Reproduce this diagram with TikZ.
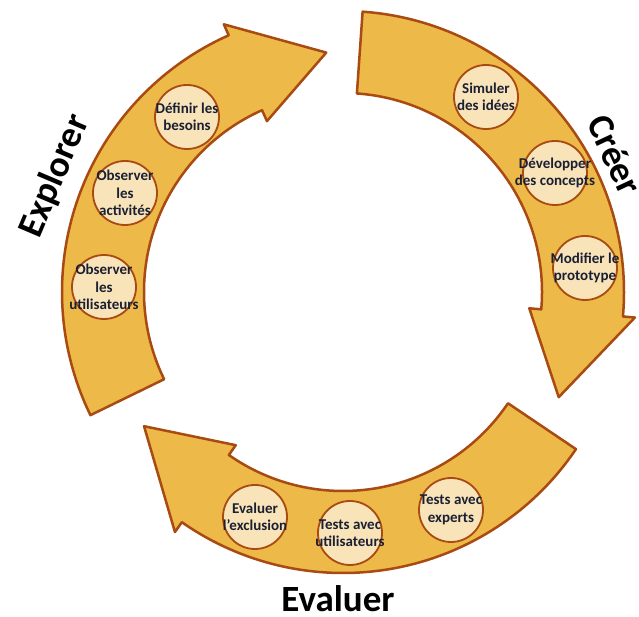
\documentclass[tikz,border=0pt]{standalone}
\usepackage{fontspec}
\setmainfont{Carlito}
\usepackage{tikz}
\usetikzlibrary{calc}
\definecolor{bandfill}{HTML}{EDB948}
\definecolor{bandline}{HTML}{A84A12}
\definecolor{bubblefill}{HTML}{F8E4B8}
\definecolor{ink}{HTML}{1B1F33}
% curved arrow: tail angle, wing angle, tip angle
\newcommand{\Fleche}[3]{%
  \draw[band] (#1:281pt) arc[start angle=#1, end angle=#2, radius=281pt]
    -- (#2:293pt) -- (#3:240pt) -- (#2:187pt) -- (#2:199pt)
    arc[start angle=#2, end angle=#1, radius=199pt] -- cycle;}
% step bubble: name, position, text
\newcommand{\Etape}[3]{%
  \node[bubble] (#1) at (#2) {};
  \node[bubbletext] at (#1) {#3};}

\begin{document}
\begin{tikzpicture}[
    x=1pt, y=1pt,
    band/.style={fill=bandfill, draw=bandline, line width=2.5pt, line join=round},
    bubble/.style={circle, fill=bubblefill, draw=bandline, line width=1.8pt, minimum size=64pt, inner sep=0pt},
    bubbletext/.style={align=center, text=ink, font=\fontsize{15}{17.5}\selectfont\bfseries, inner sep=0pt},
    phase/.style={font=\fontsize{37}{40}\selectfont\bfseries, text=black, inner sep=0pt}
]

\useasboundingbox (0,0) rectangle (639,617);

% The three arrows of the cycle
\begin{scope}[shift={(343,325)}]
\Fleche{206}{114}{94}
\Fleche{86}{-5}{-26}
\Fleche{-34}{-125}{-146}
\end{scope}

% Explorer
\Etape{besoins}{187,500}{Définir les\\besoins}
\Etape{activites}{125,424}{Observer\\les\\activités}
\Etape{observation}{104,330}{Observer\\les\\utilisateurs}

% Créer
\Etape{idees}{486,520}{Simuler\\des idées}
\Etape{concepts}{555,444}{Développer\\des concepts}
\Etape{prototype}{585,349}{Modifier le\\prototype}

% Evaluer
\Etape{exclusion}{255,100}{Evaluer\\l'exclusion}
\Etape{utilisateurs}{350,84}{Tests avec\\utilisateurs}
\Etape{experts}{451,107}{Tests avec\\experts}

% Phase names
\node[phase, rotate=67] (explorer) at (55,441) {Explorer};
\node[phase, rotate=-65] (creer) at (615,462) {Créer};
\node[phase, anchor=base] (evaluer) at (338,5) {Evaluer};

\end{tikzpicture}
\end{document}
